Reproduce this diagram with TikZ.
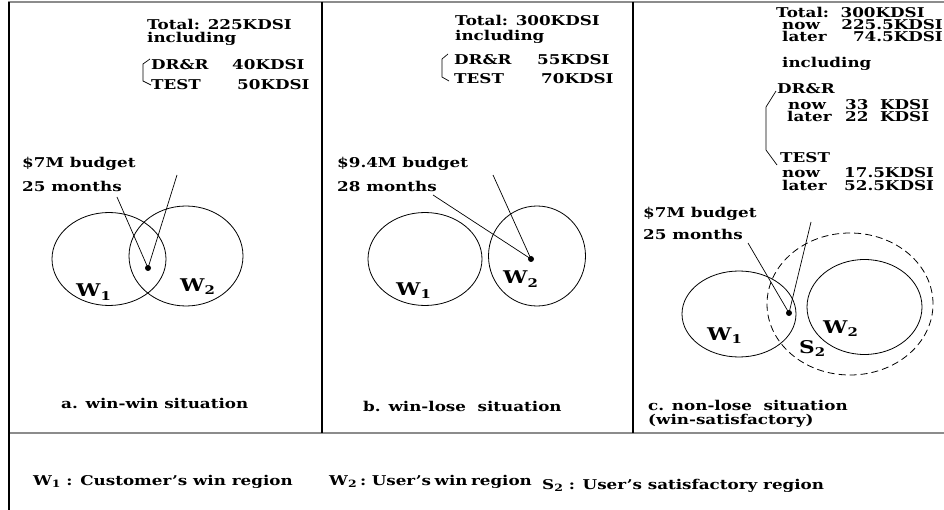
\documentclass[tikz,border=0pt]{standalone}
\usepackage{fontspec}
\setmainfont{DejaVu Serif}[FakeStretch=1.24]
\usetikzlibrary{shapes.geometric}
\newcommand\lowsub[1]{\raisebox{-0.35ex}{\fontsize{12}{12}\selectfont #1}}
\newcommand\legsub[1]{\raisebox{-0.3ex}{\fontsize{10}{10}\selectfont #1}}
\begin{document}
\begin{tikzpicture}[x=1pt,y=-1pt,
  lbl/.style={anchor=base west, inner sep=0pt, font=\bfseries\fontsize{13.5}{13.5}\selectfont},
  lblr/.style={lbl, anchor=base east},
  region/.style={draw, ellipse, line width=0.8pt, inner sep=0pt},
  satregion/.style={region, dash pattern=on 7pt off 4pt},
  wlabel/.style={anchor=base west, inner sep=0pt, font=\bfseries\fontsize{17.5}{17.5}\selectfont},
  pt/.style={circle, fill, inner sep=0pt, minimum size=6pt},
  lead/.style={line width=0.7pt},
  frame/.style={line width=1.4pt},
  rule/.style={line width=2pt, draw=black!45},
  bracket/.style={line width=0.7pt}
]
\useasboundingbox (0,0) rectangle (944,510);

% frame
\draw[rule] (8.3,2.5) -- (944,2.5);
\draw[rule] (8.3,433) -- (944,433);
\draw[frame] (9,2) -- (9,510);
\draw[frame] (322,2) -- (322,433);
\draw[frame] (633,2) -- (633,433);

% ---------- panel a ----------
\node[lbl] (atot) at (147,30) {Total: 225KDSI};
\node[lbl] (ainc) at (147,43) {including};
\node[lbl] (adr) at (151,70) {DR\&R};
\node[lbl] (adrv) at (232,70) {40KDSI};
\node[lbl] (ats) at (151,90) {TEST};
\node[lbl] (atsv) at (237,90) {50KDSI};
\draw[bracket] (150,59) -- (143,64) -- (143,81) -- (151,85);
\node[lbl] (abud) at (22,168) {\$7M budget};
\node[lbl] (amon) at (22,192) {25 months};
\node[region, minimum width=114pt, minimum height=93pt] (aw1) at (109,259) {};
\node[region, minimum width=114pt, minimum height=100pt] (aw2) at (186,256) {};
\node[pt] (apt) at (148,268) {};
\coordinate (aend1) at (117,197);
\coordinate (aend2) at (177,175);
\draw[lead] (aend1) -- (apt.center);
\draw[lead] (aend2) -- (apt.center);
\node[wlabel] (aw1l) at (76,297) {W\lowsub{1}};
\node[wlabel] (aw2l) at (180,291) {W\lowsub{2}};
\node[lbl] (acap) at (61,408) {a. win-win situation};

% ---------- panel b ----------
\node[lbl] (btot) at (455,26) {Total: 300KDSI};
\node[lbl] (binc) at (455,41) {including};
\node[lbl] (bdr) at (454,65) {DR\&R};
\node[lbl] (bdrv) at (537,65) {55KDSI};
\node[lbl] (bts) at (454,84) {TEST};
\node[lbl] (btsv) at (541,84) {70KDSI};
\draw[bracket] (448,54) -- (442,59) -- (442,77) -- (449,81);
\node[lbl] (bbud) at (337,168) {\$9.4M budget};
\node[lbl] (bmon) at (337,192) {28 months};
\node[region, minimum width=114pt, minimum height=93pt] (bw1) at (425,259) {};
\node[region, minimum width=97pt, minimum height=100pt] (bw2) at (537,256) {};
\node[pt] (bpt) at (531,259) {};
\coordinate (bend1) at (433,195);
\coordinate (bend2) at (493,175);
\draw[lead] (bend1) -- (bpt.center);
\draw[lead] (bend2) -- (bpt.center);
\node[wlabel] (bw1l) at (396,295) {W\lowsub{1}};
\node[wlabel] (bw2l) at (503,284) {W\lowsub{2}};
\node[lbl] (bcap) at (363,411) {b. win-lose\ \ situation};

% ---------- panel c ----------
\node[lbl] (ctot) at (776,18) {Total:\ \ 300KDSI};
\node[lbl] (cnow) at (782,30) {now};
\node[lblr] (cnowv) at (943,30) {225.5KDSI};
\node[lbl] (clat) at (782,42) {later};
\node[lblr] (clatv) at (943,42) {74.5KDSI};
\node[lbl] (cinc) at (782,68) {including};
\node[lbl] (cdr) at (777,94) {DR\&R};
\node[lbl] (cdrn) at (788,110) {now};
\node[lbl] (cdrnv) at (845,110) {33\ \ KDSI};
\node[lbl] (cdrl) at (787,122) {later};
\node[lbl] (cdrlv) at (845,122) {22\ \ KDSI};
\node[lbl] (cts) at (780,163) {TEST};
\node[lbl] (ctsn) at (782,178) {now};
\node[lbl] (ctsnv) at (844,178) {17.5KDSI};
\node[lbl] (ctsl) at (782,191) {later};
\node[lbl] (ctslv) at (844,191) {52.5KDSI};
\draw[bracket] (776,91) -- (766,107) -- (766,150) -- (777,165);
\node[lbl] (cbud) at (643,218) {\$7M budget};
\node[lbl] (cmon) at (643,240) {25 months};
\node[satregion, minimum width=166pt, minimum height=142pt] (cs2) at (850,304) {};
\node[region, minimum width=114pt, minimum height=86pt] (cw1) at (739,314) {};
\node[region, minimum width=115pt, minimum height=95pt] (cw2) at (864.5,307) {};
\node[pt] (cpt) at (789,313) {};
\coordinate (cend1) at (748,243);
\coordinate (cend2) at (811,222);
\draw[lead] (cend1) -- (cpt.center);
\draw[lead] (cend2) -- (cpt.center);
\node[wlabel] (cw1l) at (707,340) {W\lowsub{1}};
\node[wlabel] (cw2l) at (823,333) {W\lowsub{2}};
\node[wlabel] (cs2l) at (799,353) {S\lowsub{2}};
\node[lbl] (ccap1) at (648,410) {c. non-lose\ \ situation};
\node[lbl] (ccap2) at (648,424) {(win-satisfactory)};

% ---------- legend ----------
\node[lbl] (leg1) at (33,485) {W\legsub{1} : Customer's win region};
\node[lbl] (leg2) at (329,485) {\spaceskip=3.5pt W\legsub{2} : User's win region};
\node[lbl] (leg3) at (542,489) {S\legsub{2} : User's satisfactory region};
\end{tikzpicture}
\end{document}
